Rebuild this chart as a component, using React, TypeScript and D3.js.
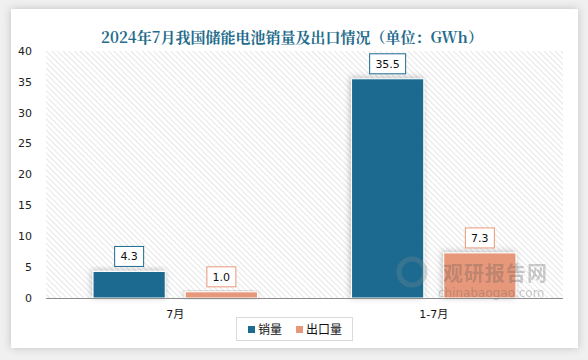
import * as d3 from "d3";
import React, { useEffect, useRef } from "react";

const categories = ["7月", "1-7月"];
const seriesNames = ["销量", "出口量"];
const salesValues = [4.3, 35.5];
const exportValues = [1.0, 7.3];
const yTicks = [0, 5, 10, 15, 20, 25, 30, 35, 40];
const colors = ["#1b6b8f", "#e8987a"];

export default function App() {
  const svgRef = useRef<SVGSVGElement>(null);

  useEffect(() => {
    const W = 588, H = 360;
    const margin = { top: 51, right: 25, bottom: 62, left: 46 };
    const svg = d3.select(svgRef.current);
    svg.selectAll("*").remove();

    const defs = svg.append("defs");
    const pat = defs.append("pattern")
      .attr("id", "hatch")
      .attr("patternUnits", "userSpaceOnUse")
      .attr("width", 4).attr("height", 4)
      .attr("patternTransform", "rotate(-45)");
    pat.append("rect").attr("width", 4).attr("height", 4).attr("fill", "#ffffff");
    pat.append("line").attr("x1", 0).attr("y1", 0).attr("x2", 0).attr("y2", 4)
      .attr("stroke", "#d6d6d6").attr("stroke-width", 1.2);

    const sh = defs.append("filter").attr("id", "shadow")
      .attr("x", "-20%").attr("y", "-20%").attr("width", "140%").attr("height", "140%");
    sh.append("feDropShadow").attr("dx", -1).attr("dy", -1).attr("stdDeviation", 3)
      .attr("flood-color", "#000").attr("flood-opacity", 0.25);

    const panelSh = defs.append("filter").attr("id", "pshadow")
      .attr("x", "-5%").attr("y", "-5%").attr("width", "110%").attr("height", "110%");
    panelSh.append("feDropShadow").attr("dx", 0).attr("dy", 0).attr("stdDeviation", 4)
      .attr("flood-color", "#000").attr("flood-opacity", 0.2);

    // background + panel
    svg.append("rect").attr("width", W).attr("height", H).attr("fill", "#f0f0f0");
    svg.append("rect").attr("x", 11).attr("y", 9).attr("width", 567).attr("height", 339)
      .attr("fill", "#ffffff").attr("filter", "url(#pshadow)");

    // title
    svg.append("text")
      .attr("x", 292).attr("y", 43)
      .attr("text-anchor", "middle")
      .attr("fill", "#1f6c8c")
      .attr("font-family", "'Noto Serif CJK SC', 'Noto Sans CJK SC', serif")
      .attr("font-weight", "bold")
      .attr("font-size", 15)
      .text("2024年7月我国储能电池销量及出口情况（单位：GWh）");

    const innerW = W - margin.left - margin.right;
    const y0 = H - margin.bottom;

    const x = d3.scaleBand().domain(categories).range([margin.left, margin.left + innerW]);
    const xs = d3.scaleBand().domain(seriesNames).range([0, x.bandwidth()]).paddingInner(0.217).paddingOuter(0.51);
    const y = d3.scaleLinear().domain([0, 40]).range([y0, margin.top]);

    svg.append("rect")
      .attr("x", margin.left).attr("y", margin.top)
      .attr("width", innerW).attr("height", y0 - margin.top)
      .attr("fill", "url(#hatch)");

    // y axis labels
    svg.append("g").selectAll("text").data(yTicks).enter().append("text")
      .attr("x", 32).attr("y", d => y(d)).attr("dy", "0.35em")
      .attr("text-anchor", "end")
      .attr("font-family", "'DejaVu Sans', Verdana, sans-serif")
      .attr("font-size", 11).attr("fill", "#222")
      .text(d => d);

    const data = categories.map((c, i) => ({
      cat: c,
      vals: [salesValues[i], exportValues[i]],
    }));

    const g = svg.append("g");
    data.forEach(d => {
      d.vals.forEach((v, j) => {
        const bx = (x(d.cat) as number) + (xs(seriesNames[j]) as number);
        const bw = xs.bandwidth();
        g.append("rect")
          .attr("x", bx).attr("y", y(v))
          .attr("width", bw).attr("height", y0 - y(v))
          .attr("fill", colors[j])
          .attr("stroke", "#fff").attr("stroke-width", 1)
          .attr("filter", "url(#shadow)");
        const label = v.toFixed(1);
        const lw = label.length * 7 + 8;
        const cx = bx + bw / 2;
        g.append("rect")
          .attr("x", cx - lw / 2).attr("y", y(v) - 25)
          .attr("width", lw).attr("height", 20)
          .attr("fill", "#fff").attr("stroke", colors[j]).attr("stroke-width", 1);
        g.append("text")
          .attr("x", cx).attr("y", y(v) - 15).attr("dy", "0.35em")
          .attr("text-anchor", "middle")
          .attr("font-family", "'DejaVu Sans', Verdana, sans-serif")
          .attr("font-size", 11).attr("fill", "#111")
          .text(label);
      });
    });

    // watermark (over bars)
    const wm = svg.append("g").attr("opacity", 0.3);
    wm.append("circle").attr("cx", 412).attr("cy", 272).attr("r", 13)
      .attr("fill", "none").attr("stroke", "#7a8a90").attr("stroke-width", 5);
    wm.append("text").attr("x", 443).attr("y", 281)
      .attr("font-family", "'Noto Sans CJK SC', sans-serif").attr("font-weight", "bold")
      .attr("font-size", 20).attr("fill", "#5b5b5b").attr("letter-spacing", 1)
      .text("观研报告网");
    wm.append("text").attr("x", 438).attr("y", 297)
      .attr("font-family", "'DejaVu Sans', sans-serif")
      .attr("font-size", 12).attr("fill", "#5b5b5b")
      .text("chinabaogao.com");

    // axis line
    svg.append("line")
      .attr("x1", margin.left).attr("x2", margin.left + innerW)
      .attr("y1", y0 + 0.5).attr("y2", y0 + 0.5)
      .attr("stroke", "#8c8c8c").attr("stroke-width", 1);

    // x labels
    svg.append("g").selectAll("text").data(categories).enter().append("text")
      .attr("x", d => (x(d) as number) + x.bandwidth() / 2)
      .attr("y", y0 + 20)
      .attr("text-anchor", "middle")
      .attr("font-family", "'DejaVu Sans', 'Noto Sans CJK SC', sans-serif")
      .attr("font-size", 11).attr("fill", "#111")
      .text(d => d);

    // legend
    const lg = svg.append("g");
    lg.append("rect").attr("x", 236.5).attr("y", 317.5).attr("width", 116).attr("height", 23)
      .attr("fill", "#fff").attr("stroke", "#d9d9d9");
    seriesNames.forEach((s, i) => {
      const lx = 248 + i * 48;
      lg.append("rect").attr("x", lx).attr("y", 326).attr("width", 7).attr("height", 7)
        .attr("fill", colors[i]);
      lg.append("text").attr("x", lx + 10).attr("y", 330).attr("dy", "0.35em")
        .attr("font-family", "'Noto Sans CJK SC', sans-serif")
        .attr("font-size", 12).attr("fill", "#111")
        .text(s);
    });
  }, []);

  return (
    <svg ref={svgRef} width={588} height={360}
      style={{ position: "absolute", left: 0, top: 0, display: "block" }} />
  );
}
